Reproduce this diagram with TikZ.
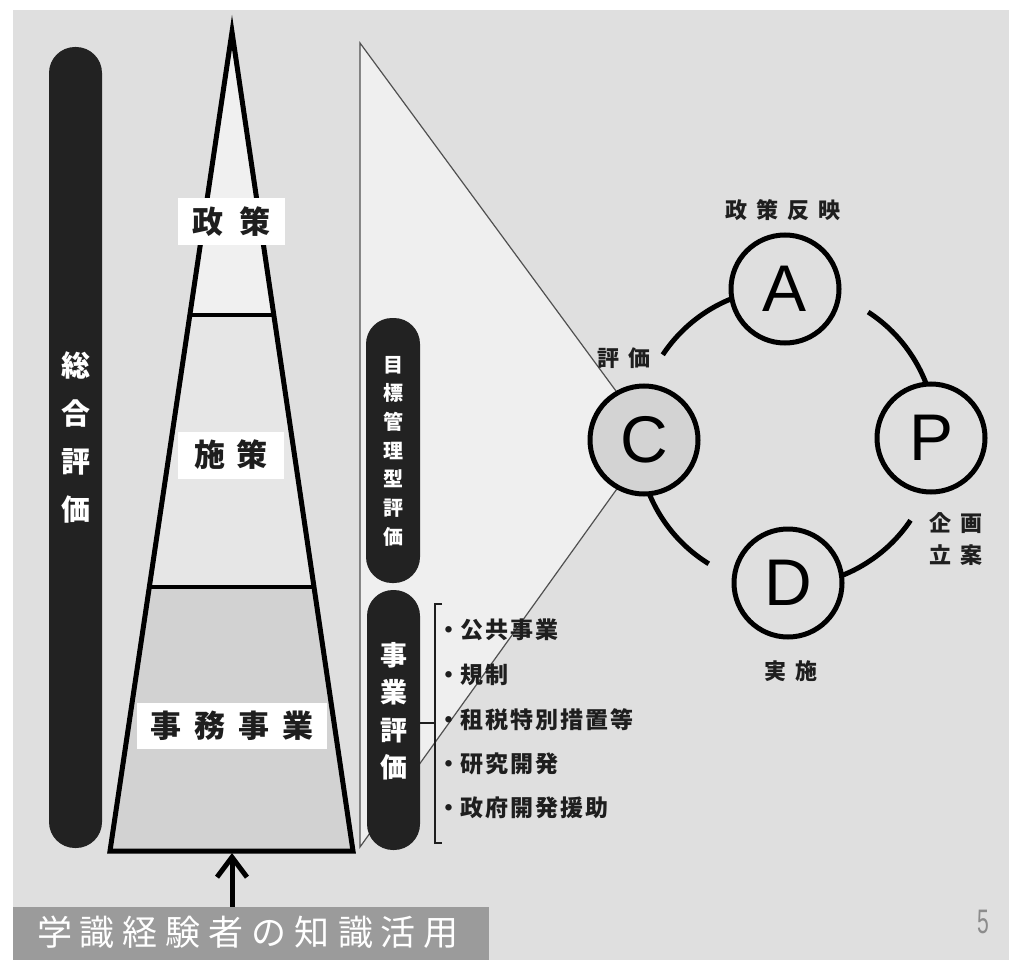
\documentclass[tikz,border=0pt]{standalone}
\usepackage{fontspec}
\usepackage{graphicx}
\newfontfamily\jp{Noto Sans CJK JP}
\newfontfamily\lat{Liberation Sans}
\usetikzlibrary{arrows.meta,calc}
\definecolor{bg}{HTML}{DFDFDF}
\definecolor{light}{HTML}{EFEFEF}
\definecolor{secA}{HTML}{F0F0F0}
\definecolor{secB}{HTML}{E6E6E6}
\definecolor{secC}{HTML}{D2D2D2}
\definecolor{dark}{HTML}{222222}
\definecolor{txt}{HTML}{1E1E1E}
\definecolor{cfill}{HTML}{D3D3D3}
\definecolor{boxgray}{HTML}{9B9B9B}
\definecolor{edgegray}{HTML}{505050}
\definecolor{numgray}{HTML}{8C8C8C}
\makeatletter
\def\myspaced#1#2{\def\my@k{#1}\my@a#2\relax}
\def\my@a#1{#1\my@b}
\def\my@b#1{\ifx\relax#1\else\kern\my@k\relax#1\expandafter\my@b\fi}
\makeatother
\tikzset{
  bar/.style={fill=dark, rounded corners=26pt, inner sep=0pt},
  tlabel/.style={fill=white, inner sep=0pt, minimum height=47pt, text=txt, font=\jp\bfseries\fontsize{31}{36}\selectfont},
  vtext/.style={text=white, align=center, inner sep=0pt},
  item/.style={anchor=west, text=txt, inner sep=0pt, font=\jp\bfseries\fontsize{23}{28}\selectfont},
  pdca/.style={circle, draw=black, line width=5pt, minimum size=108pt, inner sep=0pt, fill=bg, font=\lat\fontsize{66}{66}\selectfont},
  plabel/.style={text=txt, inner sep=0pt, align=center, font=\jp\bfseries\fontsize{22}{32}\selectfont},
  cyc/.style={line width=5pt, draw=black},
  wedge/.style={draw=edgegray, line width=1.2pt},
}
\begin{document}
\begin{tikzpicture}[x=1pt,y=-1pt]
\useasboundingbox (0,0) rectangle (1009,960);
\fill[white] (0,0) rectangle (1009,960);
\fill[bg] (13,10) rectangle (1009,960);

% light wedge toward C
\coordinate (wt) at (360,43);
\coordinate (wb) at (360,847);
\coordinate (wc) at (652,440);
\fill[light] (wt) -- (wc) -- (wb) -- cycle;
\draw[wedge] (wc) -- (wt) -- (wb) -- (wc);

% left bar
\node[bar, minimum width=53pt, minimum height=801pt] (sogoBar) at (75.5,447.5) {};
\node[vtext, font=\jp\bfseries\fontsize{29}{48}\selectfont] (sogo) at (75.5,437) {総\\合\\評\\価};

% pyramid
\coordinate (apex) at (232,32);
\coordinate (bl) at (110,851);
\coordinate (br) at (353,851);
\coordinate (l1) at ($(apex)!0.3455!(bl)$);
\coordinate (r1) at ($(apex)!0.3455!(br)$);
\coordinate (l2) at ($(apex)!0.6777!(bl)$);
\coordinate (r2) at ($(apex)!0.6777!(br)$);
\fill[secA] (apex) -- (l1) -- (r1) -- cycle;
\fill[secB] (l1) -- (l2) -- (r2) -- (r1) -- cycle;
\fill[secC] (l2) -- (bl) -- (br) -- (r2) -- cycle;
\draw[line width=4pt] (l1) -- (r1) (l2) -- (r2);
\draw[line width=5pt, line join=miter, miter limit=20] (apex) -- (bl) -- (br) -- cycle;

\node[tlabel, minimum width=107pt] (seisaku) at (231.5,221.5) {\myspaced{16pt}{政策}};
\node[tlabel, minimum width=106pt] (shisaku) at (231,455) {\myspaced{12pt}{施策}};
\node[tlabel, minimum width=190pt, minimum height=46pt] (jimu) at (232,726) {\myspaced{13pt}{事務事業}};

% middle bars
\node[bar, minimum width=54pt, minimum height=265pt] (mokuBar) at (393,450.5) {};
\node[vtext, font=\jp\bfseries\fontsize{20}{28.7}\selectfont] (moku) at (393,451) {目\\標\\管\\理\\型\\評\\価};
\node[bar, minimum width=53pt, minimum height=260pt] (jigyoBar) at (393.5,720) {};
\node[vtext, font=\jp\bfseries\fontsize{27}{37.5}\selectfont] (jigyo) at (393.5,711) {事\\業\\評\\価};

% bracket
\coordinate (brT) at (435,604);
\coordinate (brB) at (435,843);
\coordinate (brM) at (435,723);
\draw[txt, line width=1.3pt] ($(brT)+(7,0)$) -- (brT) -- (brB) -- ++(7,0);
\draw[txt, line width=1.3pt] (jigyoBar.east |- brM) -- (brM);

% list
\node[item] (i1) at (437,630) {・\myspaced{2pt}{公共事業}};
\node[item] (i2) at (437,675) {・\myspaced{2pt}{規制}};
\node[item] (i3) at (437,720) {・\myspaced{2pt}{租税特別措置等}};
\node[item] (i4) at (437,764) {・\myspaced{2pt}{研究開発}};
\node[item] (i5) at (437,808) {・\myspaced{2pt}{政府開発援助}};

% PDCA cycle
\coordinate (O) at (787,437);
\draw[cyc] (O) ++(-146.5:149) arc[start angle=-146.5, end angle=-105, radius=149];
\draw[cyc] (O) ++(-57:149) arc[start angle=-57, end angle=-15, radius=149];
\draw[cyc] (O) ++(34:149) arc[start angle=34, end angle=75, radius=149];
\draw[cyc] (O) ++(-200:149) arc[start angle=-200, end angle=-238.3, radius=149];

\node[pdca] (A) at (785,289) {A};
\node[pdca] (P) at (931,438) {P};
\node[pdca, fill=cfill] (C) at (644,440) {C};
\node[pdca] (D) at (788,583) {D};

\node[plabel] (lA) at (783,210) {\myspaced{9pt}{政策反映}};
\node[plabel] (lC) at (624,358) {\myspaced{9pt}{評価}};
\node[plabel] (lP) at (956,539) {\myspaced{9pt}{企画}\\\myspaced{9pt}{立案}};
\node[plabel] (lD) at (791,671) {\myspaced{9pt}{実施}};

% bottom
\node[fill=boxgray, minimum width=476pt, minimum height=53pt, inner sep=0pt] (kbox) at (251,933.5) {};
\node[text=white, font=\jp\fontsize{35}{40}\selectfont, inner sep=0pt] (ktext) at (248,932) {\myspaced{8pt}{学識経験者の知識活用}};
\coordinate (basemid) at (232,853);
\draw[line width=5pt, -{Straight Barb[length=20pt,width=30pt]}] (kbox.north -| basemid) -- (basemid);

\node[text=numgray, font=\lat\fontsize{34}{34}\selectfont, inner sep=0pt] (pg) at (983,922) {\scalebox{0.62}[1]{5}};
\end{tikzpicture}
\end{document}
